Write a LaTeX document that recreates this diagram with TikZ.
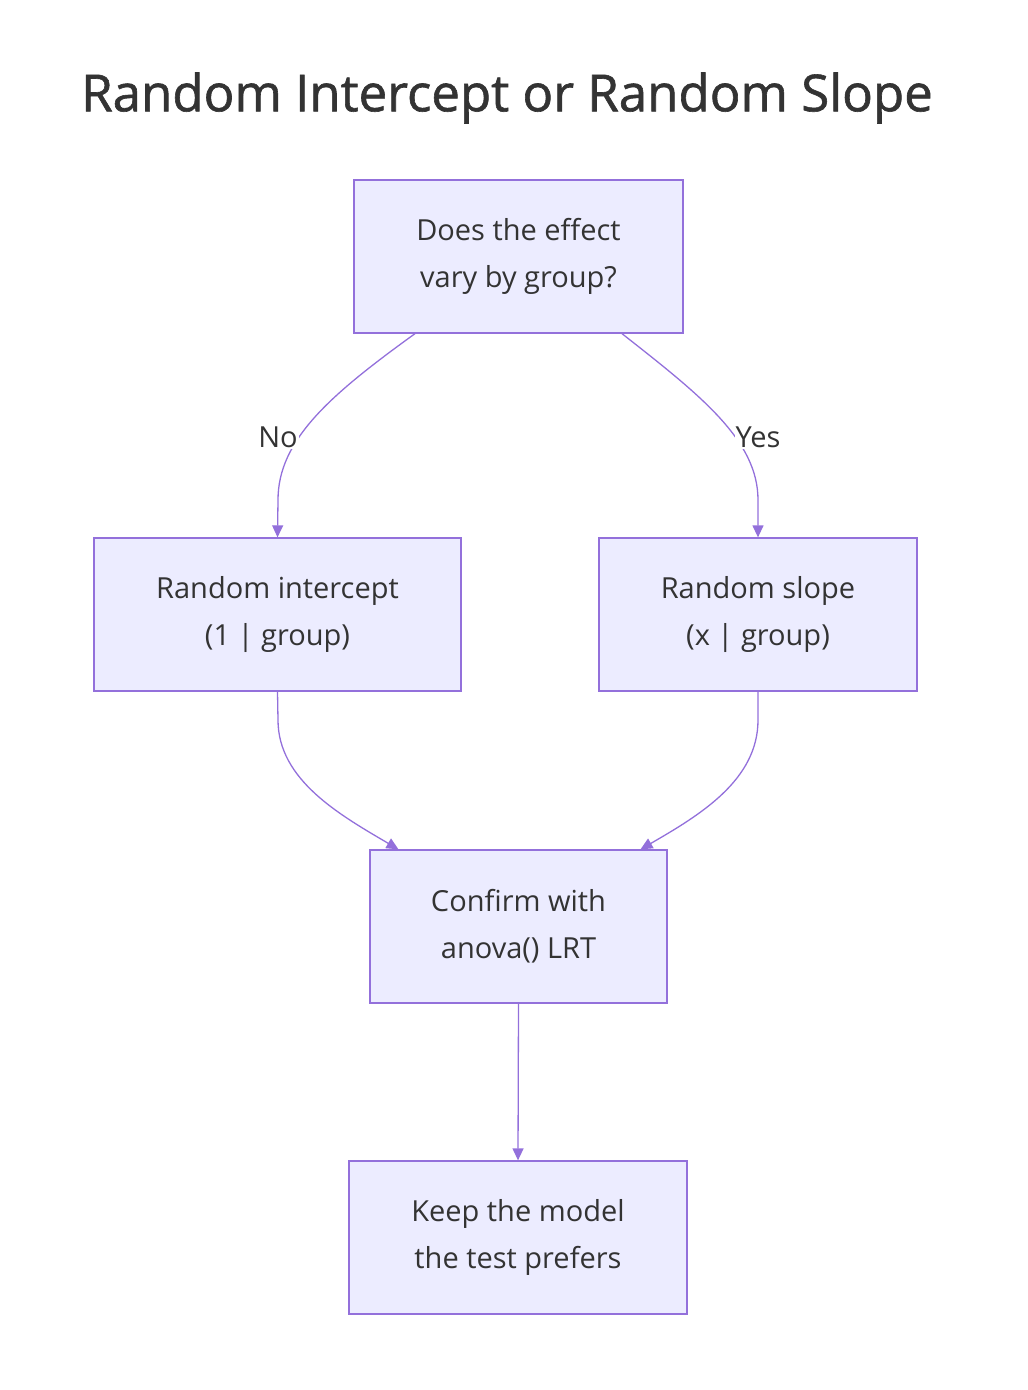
\documentclass[tikz,border=0pt]{standalone}
\usepackage{fontspec}
\setmainfont{Open Sans}
\newfontfamily\titlefont[FakeBold=1.2]{Open Sans}
\usetikzlibrary{arrows.meta}
\definecolor{nfill}{HTML}{ECECFF}
\definecolor{nline}{HTML}{9370DB}
\definecolor{ntext}{HTML}{333333}
\begin{document}
\begin{tikzpicture}[x=1pt,y=-1pt,
  box/.style={draw=nline,fill=nfill,line width=1.3pt,text=ntext,font=\fontsize{29}{47}\selectfont,align=center,inner sep=0pt},
  conn/.style={draw=nline,line width=1.3pt,-{Triangle[length=12pt,width=11pt]}},
  lab/.style={fill=white,text=ntext,font=\fontsize{29}{34}\selectfont,inner sep=1pt}]
\useasboundingbox (0,0) rectangle (1028,1390);
\node[text=ntext,font=\fontsize{51}{60}\titlefont] (title) at (507,98) {Random Intercept or Random Slope};
\node[box,minimum width=329pt,minimum height=153pt] (A) at (518.5,256.5) {Does the effect\\vary by group?};
\node[box,minimum width=367pt,minimum height=153pt] (B) at (277.5,614.5) {Random intercept\\(1 | group)};
\node[box,minimum width=318pt,minimum height=153pt] (C) at (758,614.5) {Random slope\\(x | group)};
\node[box,minimum width=297pt,minimum height=153pt] (D) at (518.5,926.5) {Confirm with\\anova() LRT};
\node[box,minimum width=338pt,minimum height=153pt] (E) at (518,1237.5) {Keep the model\\the test prefers};
\draw[conn] ([xshift=-103.5pt]A.south) .. controls (330,395) and (278,440) .. (278,500) -- (B.north);
\draw[conn] ([xshift=103.5pt]A.south) .. controls (700,395) and (758,440) .. (758,500) -- (C.north);
\node[lab] (no) at (278,437) {No};
\node[lab] (yes) at (758,437) {Yes};
\draw[conn] (B.south) -- (278,720) .. controls (278,780) and (340,815) .. ([xshift=-120pt]D.north);
\draw[conn] (C.south) -- (758,720) .. controls (758,780) and (700,815) .. ([xshift=122pt]D.north);
\draw[conn] (D.south) -- (E.north);
\end{tikzpicture}
\end{document}
